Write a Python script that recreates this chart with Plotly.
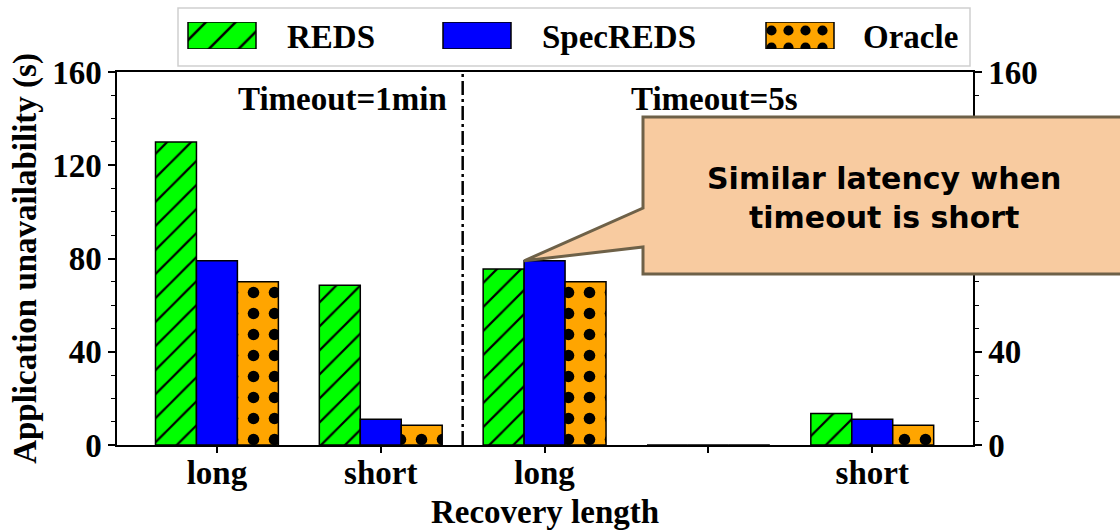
import plotly.graph_objects as go

# ---------------- data ----------------
categories = ["long", "short", "long", "", "short"]
series_names = ["REDS", "SpecREDS", "Oracle"]
reds = [130, 68.5, 75.5, 0, 13.5]
specreds = [79, 11, 79, 0, 11]
oracle = [70, 8.5, 70, 0, 8.5]
y_ticks = [0, 40, 80, 120, 160]
y_tick_text_left = ["0", "40", "80", "120", "160"]
y_tick_text_right = ["0", "40", "", "", "160"]  # 80 and 120 sit behind the callout
y_minor = [10, 20, 30, 50, 60, 70, 90, 100, 110, 130, 140, 150]
panel_labels = ["Timeout=1min", "Timeout=5s"]
callout_text = "Similar latency when<br>timeout is short"

# ---------------- layout helpers ----------------
W, H = 1120, 530
ML, MR, MT, MB = 117, 147, 10, 85
PW, PH = W - ML - MR, H - MT - MB
X_RANGE = [-0.61, 4.615]
Y_RANGE = [0, 160]
DOM_TOP = (H - MB - 72) / PH


def px2x(px):
    return (px - ML) / PW


def py2y(py):
    return (H - MB - py) / PH


def data2paper_x(v):
    return (v - X_RANGE[0]) / (X_RANGE[1] - X_RANGE[0])


def data2paper_y(v):
    return (v - Y_RANGE[0]) / (Y_RANGE[1] - Y_RANGE[0]) * DOM_TOP


SERIF = "Liberation Serif"
FS = 33
colors = ["#00FF00", "#0000FF", "#FFA500"]
patterns = [
    dict(shape="/", fgcolor="black", fgopacity=1, size=17, solidity=0.13),
    dict(shape=""),
    dict(shape=".", fgcolor="black", fgopacity=1, size=21, solidity=0.24),
]
values = [reds, specreds, oracle]
xs = list(range(len(categories)))

fig = go.Figure()
for name, vals, col, pat in zip(series_names, values, colors, patterns):
    fig.add_trace(go.Bar(
        x=xs, y=vals, name=name, showlegend=False,
        marker=dict(color=col, line=dict(color="black", width=1.5), pattern=pat),
    ))

# empty trace so the right-hand axis is drawn
fig.add_trace(go.Scatter(x=[None], y=[None], yaxis="y2", showlegend=False,
                         hoverinfo="skip", mode="markers"))

# ---------------- custom legend (swatches on a hidden axis) ----------------
legend_swatch_start = [188, 443, 766]
legend_swatch_len = 68
legend_text_left = [285, 540, 861]
legend_patterns = [
    dict(shape="/", fgcolor="black", fgopacity=1, size=21, solidity=0.12),
    dict(shape=""),
    dict(shape=".", fgcolor="black", fgopacity=1, size=17, solidity=0.28),
]
for name, col, pat, s in zip(series_names, colors, legend_patterns, legend_swatch_start):
    fig.add_trace(go.Bar(
        y=[0], x=[legend_swatch_len], base=[s], orientation="h",
        width=[1], offset=[-0.5], xaxis="x3", yaxis="y3", showlegend=False,
        hoverinfo="skip",
        marker=dict(color=col, line=dict(color="black", width=1.5), pattern=pat),
    ))

annotations = []
for name, tx in zip(series_names, legend_text_left):
    annotations.append(dict(
        x=px2x(tx), y=py2y(37), xref="paper", yref="paper", text=name,
        showarrow=False, xanchor="left", yanchor="middle",
        font=dict(family=SERIF, size=FS, color="black", weight="bold"),
    ))

# panel labels
for lab, cx in zip(panel_labels, [342, 714]):
    annotations.append(dict(
        x=px2x(cx), y=py2y(99), xref="paper", yref="paper", text=lab,
        showarrow=False, xanchor="center", yanchor="middle",
        font=dict(family=SERIF, size=FS, color="black", weight="bold"),
    ))

# callout text
annotations.append(dict(
    x=px2x(884), y=py2y(198), xref="paper", yref="paper", text=callout_text,
    showarrow=False, xanchor="center", yanchor="middle", align="center",
    font=dict(family="DejaVu Sans", size=30, color="black", weight="bold"),
))

# callout shape, pointing to SpecREDS bar top of the 3rd group
tip_x = data2paper_x(xs[2] - 0.125)
tip_y = data2paper_y(specreds[2])
bx0, bx1 = px2x(643), px2x(1135)
by0, by1 = py2y(274), py2y(117)
w1, w2 = py2y(208), py2y(247)
callout_path = (f"M {bx0},{by1} L {bx1},{by1} L {bx1},{by0} L {bx0},{by0} "
                f"L {bx0},{w2} L {tip_x},{tip_y} L {bx0},{w1} Z")

shapes = [
    # legend frame
    dict(type="rect", xref="paper", yref="paper",
         x0=px2x(178), x1=px2x(970), y0=py2y(66), y1=py2y(8),
         line=dict(color="#cfcfcf", width=1.5), fillcolor="white", layer="below"),
    # separator
    dict(type="line", xref="x", yref="y", x0=1.5, x1=1.5, y0=Y_RANGE[0], y1=Y_RANGE[1],
         line=dict(color="black", width=2.5, dash="14px,4px,3px,4px")),
    # callout
    dict(type="path", xref="paper", yref="paper", path=callout_path,
         fillcolor="#F8CBA0", line=dict(color="#6E6148", width=3), layer="above"),
]

tickfont = dict(family=SERIF, size=FS, color="black", weight="bold")
fig.update_layout(
    width=W, height=H,
    margin=dict(l=ML, r=MR, t=MT, b=MB, autoexpand=False),
    paper_bgcolor="white", plot_bgcolor="white",
    barmode="group", bargap=0.25, bargroupgap=0,
    showlegend=False,
    xaxis=dict(
        range=X_RANGE, domain=[0, 1], anchor="y", automargin=False,
        tickmode="array", tickvals=xs, ticktext=categories,
        ticks="outside", ticklen=6, tickwidth=1.5, tickcolor="black",
        ticklabelstandoff=-8,
        showline=True, linecolor="black", linewidth=1.5, mirror=True,
        showgrid=False, zeroline=False, tickfont=tickfont,
        title=dict(text="Recovery length", font=tickfont, standoff=10),
    ),
    yaxis=dict(
        range=Y_RANGE, domain=[0, DOM_TOP], anchor="x", automargin=False,
        tickmode="array", tickvals=y_ticks, ticktext=y_tick_text_left,
        ticks="outside", ticklen=7, tickwidth=1.5, tickcolor="black",
        minor=dict(tickmode="array", tickvals=y_minor, ticks="outside", ticklen=4,
                   tickwidth=1.2, tickcolor="black"),
        showline=True, linecolor="black", linewidth=1.5,
        showgrid=False, zeroline=False, tickfont=tickfont,
        title=dict(text="Application unavailability (s)", font=tickfont, standoff=6),
    ),
    yaxis2=dict(
        range=Y_RANGE, overlaying="y", side="right", anchor="x", automargin=False,
        tickmode="array", tickvals=y_ticks, ticktext=y_tick_text_right,
        ticks="outside", ticklen=7, tickwidth=1.5, tickcolor="black",
        minor=dict(tickmode="array", tickvals=y_minor, ticks="outside", ticklen=4,
                   tickwidth=1.2, tickcolor="black"),
        showline=True, linecolor="black", linewidth=1.5,
        showgrid=False, zeroline=False, tickfont=tickfont,
    ),
    xaxis3=dict(range=[ML, W - MR], domain=[0, 1], anchor="y3", visible=False,
                fixedrange=True, automargin=False),
    yaxis3=dict(range=[-0.5, 0.5], domain=[py2y(49), py2y(22)], anchor="x3",
                visible=False, fixedrange=True, automargin=False),
    shapes=shapes,
    annotations=annotations,
)

fig.write_html("out.html")
